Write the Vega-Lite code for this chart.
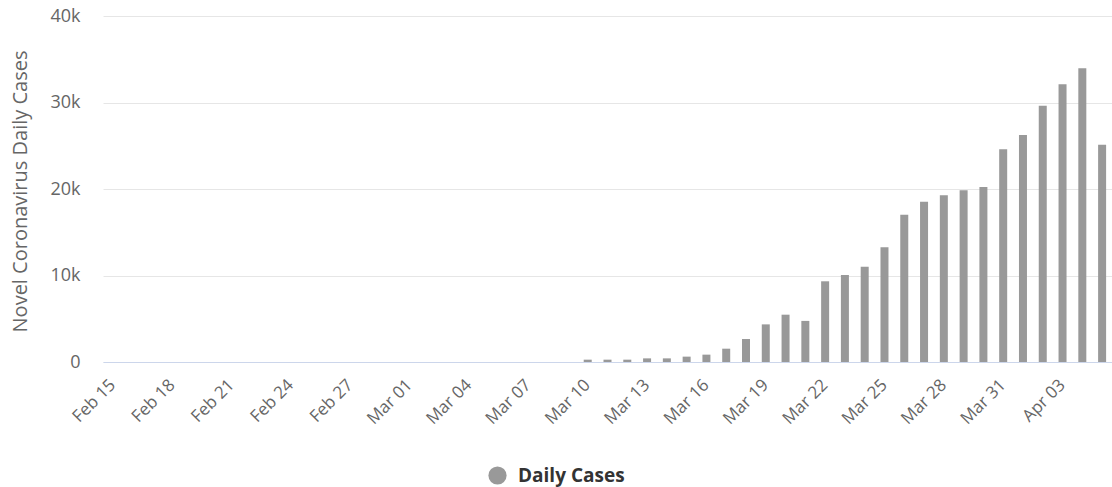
{
  "$schema": "https://vega.github.io/schema/vega-lite/v6.json",
  "autosize": {"type": "none"},
  "width": 1009,
  "height": 346,
  "padding": {"left": 103, "top": 16, "right": 0, "bottom": 125},
  "background": "#ffffff",
  "config": {
    "font": "Open Sans",
    "view": {"stroke": null}
  },
  "data": {
    "values": [
      {"date": "Feb 15", "cases": 0},
      {"date": "Feb 16", "cases": 0},
      {"date": "Feb 17", "cases": 0},
      {"date": "Feb 18", "cases": 0},
      {"date": "Feb 19", "cases": 0},
      {"date": "Feb 20", "cases": 0},
      {"date": "Feb 21", "cases": 0},
      {"date": "Feb 22", "cases": 0},
      {"date": "Feb 23", "cases": 0},
      {"date": "Feb 24", "cases": 0},
      {"date": "Feb 25", "cases": 0},
      {"date": "Feb 26", "cases": 0},
      {"date": "Feb 27", "cases": 0},
      {"date": "Feb 28", "cases": 0},
      {"date": "Feb 29", "cases": 0},
      {"date": "Mar 01", "cases": 0},
      {"date": "Mar 02", "cases": 0},
      {"date": "Mar 03", "cases": 0},
      {"date": "Mar 04", "cases": 0},
      {"date": "Mar 05", "cases": 0},
      {"date": "Mar 06", "cases": 0},
      {"date": "Mar 07", "cases": 0},
      {"date": "Mar 08", "cases": 0},
      {"date": "Mar 09", "cases": 0},
      {"date": "Mar 10", "cases": 270},
      {"date": "Mar 11", "cases": 270},
      {"date": "Mar 12", "cases": 270},
      {"date": "Mar 13", "cases": 420},
      {"date": "Mar 14", "cases": 420},
      {"date": "Mar 15", "cases": 620},
      {"date": "Mar 16", "cases": 850},
      {"date": "Mar 17", "cases": 1540},
      {"date": "Mar 18", "cases": 2660},
      {"date": "Mar 19", "cases": 4350},
      {"date": "Mar 20", "cases": 5470},
      {"date": "Mar 21", "cases": 4750},
      {"date": "Mar 22", "cases": 9330},
      {"date": "Mar 23", "cases": 10060},
      {"date": "Mar 24", "cases": 11020},
      {"date": "Mar 25", "cases": 13260},
      {"date": "Mar 26", "cases": 17030},
      {"date": "Mar 27", "cases": 18540},
      {"date": "Mar 28", "cases": 19270},
      {"date": "Mar 29", "cases": 19850},
      {"date": "Mar 30", "cases": 20230},
      {"date": "Mar 31", "cases": 24590},
      {"date": "Apr 01", "cases": 26240},
      {"date": "Apr 02", "cases": 29630},
      {"date": "Apr 03", "cases": 32100},
      {"date": "Apr 04", "cases": 33950},
      {"date": "Apr 05", "cases": 25130}
    ]
  },
  "mark": {"type": "bar", "size": 8, "color": "#999999"},
  "encoding": {
    "x": {
      "field": "date",
      "type": "ordinal",
      "sort": null,
      "scale": {"paddingInner": 0, "paddingOuter": 0},
      "axis": {
        "title": null,
        "values": ["Feb 15", "Feb 18", "Feb 21", "Feb 24", "Feb 27", "Mar 01", "Mar 04", "Mar 07", "Mar 10", "Mar 13", "Mar 16", "Mar 19", "Mar 22", "Mar 25", "Mar 28", "Mar 31", "Apr 03"],
        "labelAngle": -45,
        "labelAlign": "right",
        "labelBaseline": "middle",
        "labelFontSize": 17,
        "labelColor": "#666666",
        "labelPadding": 20,
        "ticks": false,
        "domainColor": "#ccd6eb",
        "domainWidth": 1,
        "grid": false
      }
    },
    "y": {
      "field": "cases",
      "type": "quantitative",
      "scale": {"domain": [0, 40000], "nice": false},
      "axis": {
        "title": "Novel Coronavirus Daily Cases",
        "titleColor": "#666666",
        "titleFontSize": 20,
        "titleFontWeight": "normal",
        "titleAngle": -90,
        "titleAlign": "center",
        "titleBaseline": "middle",
        "titleX": -83,
        "titleY": 175,
        "values": [0, 10000, 20000, 30000, 40000],
        "labelExpr": "datum.value == 0 ? '0' : (datum.value / 1000) + 'k'",
        "labelFontSize": 18,
        "labelColor": "#666666",
        "labelPadding": 23,
        "ticks": false,
        "domain": false,
        "gridColor": "#e6e6e6",
        "gridWidth": 1
      }
    },
    "color": {
      "datum": "Daily Cases",
      "type": "nominal",
      "scale": {"range": ["#999999"]},
      "legend": {
        "title": null,
        "orient": "none",
        "legendX": 385,
        "legendY": 450,
        "padding": 0,
        "symbolType": "circle",
        "symbolSize": 330,
        "symbolStrokeWidth": 0,
        "symbolOpacity": 1,
        "labelFontSize": 19,
        "labelFontWeight": "bold",
        "labelColor": "#333333",
        "labelOffset": 11
      }
    }
  }
}
